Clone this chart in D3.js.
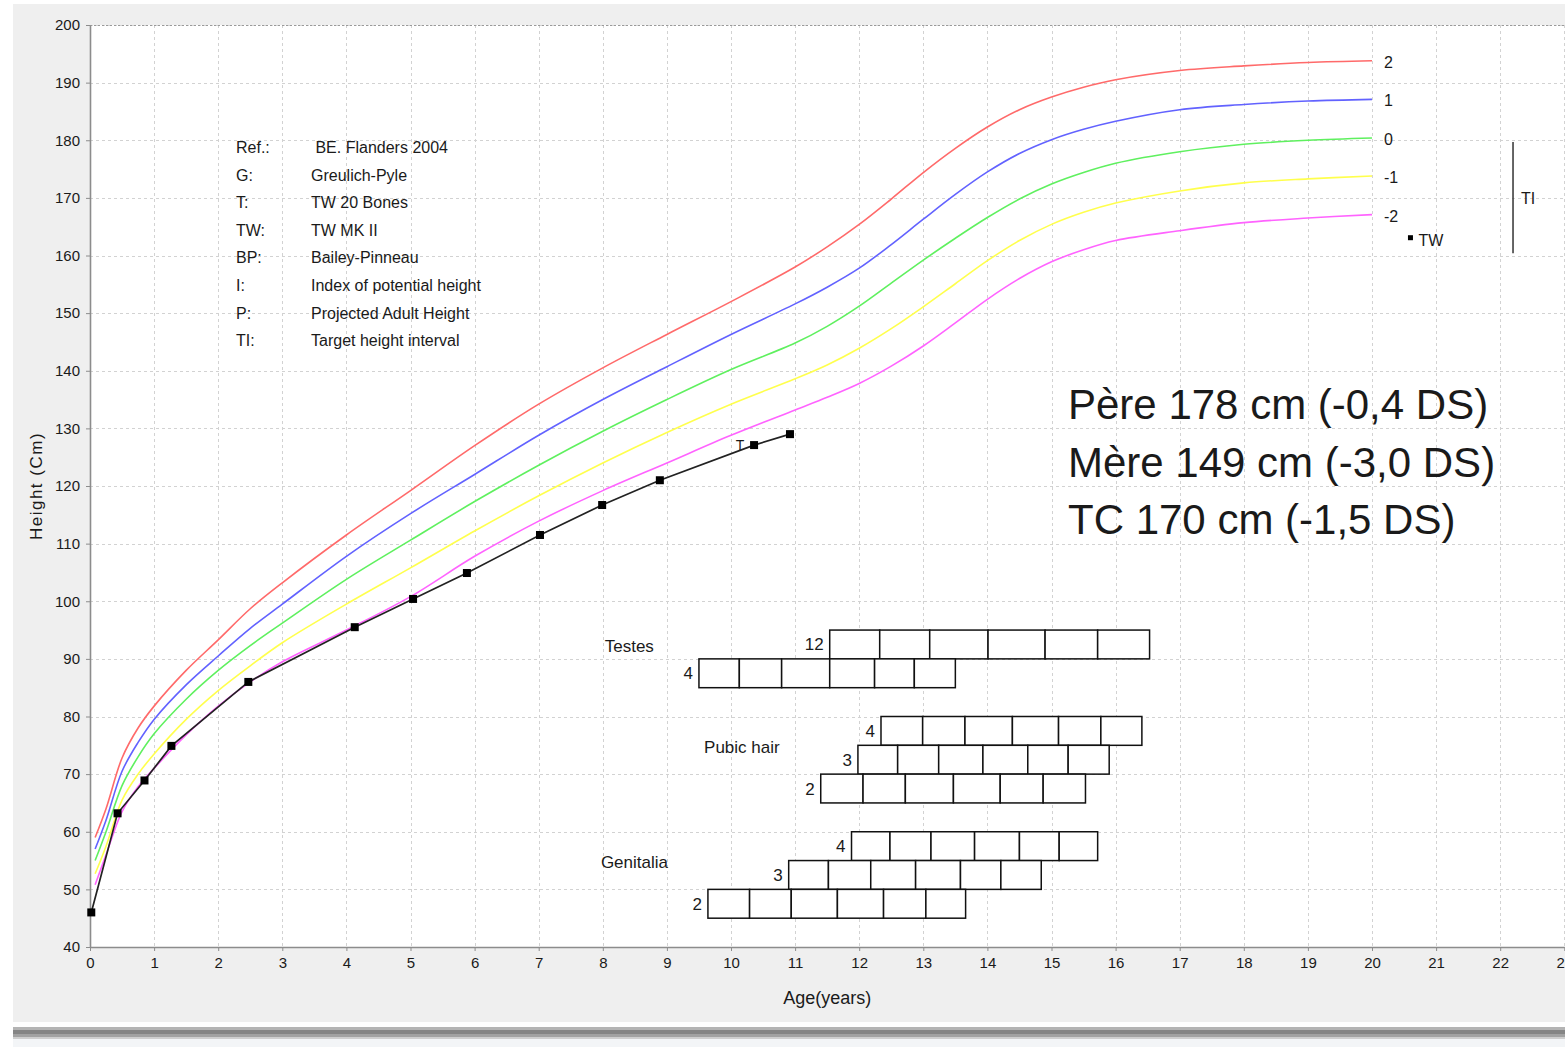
<!DOCTYPE html>
<html>
<head>
<meta charset="utf-8">
<script src="https://cdn.jsdelivr.net/npm/d3@7"></script>
<style>
  html, body { margin: 0; padding: 0; background: #ffffff; }
  svg { display: block; }
  text { font-family: "Liberation Sans", Arial, Helvetica, sans-serif; fill: #1a1a1a; }
</style>
</head>
<body>
<svg id="chart" width="1565" height="1047"></svg>
<script>
// ---- Reference growth curves (boys, Flanders 2004), height in cm by age in years ----
const ages = [0.08, 0.25, 0.5, 0.75, 1, 1.5, 2, 2.5, 3, 4, 5, 6, 7, 8, 9, 10, 11,
              11.5, 12, 12.5, 13, 13.5, 14, 14.5, 15, 15.5, 16, 17, 18, 19, 20];
const sdPlus2  = [59, 64, 72.8, 78, 81.8, 88, 93.3, 98.7, 103.2, 111.5, 119.2, 127, 134.2, 140.5, 146.3, 152, 158,
                  161.5, 165.4, 169.8, 174.4, 178.6, 182.3, 185.3, 187.5, 189.2, 190.5, 192.1, 192.9, 193.5, 193.8];
const sdPlus1  = [57, 62, 70.5, 75.5, 79.5, 85.5, 90.5, 95.3, 99.5, 107.8, 115.2, 122.0, 128.8, 135.0, 140.7, 146.3, 151.6,
                  154.5, 157.8, 161.9, 166.3, 170.6, 174.5, 177.7, 180.1, 181.9, 183.3, 185.3, 186.2, 186.8, 187.1];
const sdZero   = [55, 60, 68, 73, 77, 83, 88, 92.3, 96.2, 103.8, 110.6, 117.3, 123.6, 129.5, 135, 140.2, 144.8,
                  147.7, 151.2, 155.2, 159.2, 163, 166.6, 169.8, 172.4, 174.4, 176, 178, 179.3, 180, 180.4];
const sdMinus1 = [52.7, 57.5, 65.5, 70, 73.5, 79.5, 84.5, 88.8, 92.8, 99.5, 105.8, 112.2, 118.3, 124, 129.3, 134.2, 138.6,
                  141.0, 143.9, 147.3, 151.1, 155.1, 159.1, 162.6, 165.4, 167.5, 169.1, 171.2, 172.6, 173.3, 173.8];
const sdMinus2 = [50.8, 56, 63.5, 67.8, 71, 76.8, 81.8, 86, 89.5, 95, 100.8, 107.8, 113.9, 119.2, 124, 128.8, 133.2,
                  135.4, 137.8, 140.8, 144.3, 148.3, 152.4, 156.0, 158.9, 161.0, 162.6, 164.3, 165.7, 166.5, 167.1];
const sdLabels = ["2", "1", "0", "-1", "-2"];

// ---- Patient measurements ----
const patientAges    = [0.02, 0.43, 0.85, 1.27, 2.47, 4.13, 5.04, 5.88, 7.02, 7.99, 8.89, 10.36, 10.92];
const patientHeights = [46, 63.2, 68.9, 74.9, 86.0, 95.5, 100.4, 104.9, 111.5, 116.7, 121.0, 127.1, 129.0];
const boneAgeTW20 = 10.14;          // "T" marker, plotted at the height of the 10.36 y visit
const boneAgeHeight = 127.1;
const twAdultHeight = 163.0;        // TW prediction
const targetInterval = [160.4, 179.7];

// ---- Axis ticks ----
const xTicks = d3.range(0, 24);
const yTicks = d3.range(40, 201, 10);

// ---- Legend block ----
const legendKeys   = ["Ref.:", "G:", "T:", "TW:", "BP:", "I:", "P:", "TI:"];
const legendValues = [" BE. Flanders 2004", "Greulich-Pyle", "TW 20 Bones", "TW MK II", "Bailey-Pinneau",
                      "Index of potential height", "Projected Adult Height", "Target height interval"];

// ---- Parental heights note ----
const noteLines = ["Père 178 cm (-0,4 DS)", "Mère 149 cm (-3,0 DS)", "TC 170 cm (-1,5 DS)"];

// ---- Pubertal stage onset bands (P3..P97 ages), each row spans 5 cm ----
const testes4   = [9.5, 10.13, 10.79, 11.54, 12.24, 12.86, 13.5];
const testes12  = [11.54, 12.32, 13.1, 14.01, 14.9, 15.72, 16.53];
const pubic2    = [11.4, 12.06, 12.72, 13.47, 14.2, 14.87, 15.53];
const pubic3    = [11.98, 12.6, 13.24, 13.93, 14.63, 15.26, 15.9];
const pubic4    = [12.34, 12.99, 13.65, 14.39, 15.11, 15.77, 16.41];
const genital2  = [9.64, 10.29, 10.94, 11.66, 12.38, 13.04, 13.66];
const genital3  = [10.9, 11.52, 12.18, 12.88, 13.58, 14.21, 14.84];
const genital4  = [11.88, 12.48, 13.12, 13.8, 14.5, 15.12, 15.72];
const stageGroups = ["Testes", "Pubic hair", "Genitalia"];

// ------------------------------------------------------------------
const W = 1565, H = 1047;
const svg = d3.select("#chart");

const x = d3.scaleLinear().domain([0, 23]).range([90, 1564.3]);
const y = d3.scaleLinear().domain([40, 200]).range([947, 25]);

// window background
svg.append("rect").attr("x", 0).attr("y", 0).attr("width", W).attr("height", H).attr("fill", "#ffffff");
svg.append("rect").attr("x", 13).attr("y", 4).attr("width", W - 13).attr("height", 1018).attr("fill", "#efefef");
// bottom splitter
const strip = [[1022, 5, "#ffffff"], [1027, 3, "#b4b4b4"], [1030, 4, "#858585"], [1034, 3, "#a2a2a2"],
               [1037, 2, "#cfcfcf"], [1039, 8, "#f3f5f7"]];
strip.forEach(s => svg.append("rect").attr("x", 13).attr("y", s[0]).attr("width", W - 13)
  .attr("height", s[1]).attr("fill", s[2]));

// plot area
svg.append("rect").attr("x", x(0)).attr("y", y(200)).attr("width", W - x(0)).attr("height", y(40) - y(200))
  .attr("fill", "#ffffff");

// grid
const grid = svg.append("g").attr("stroke", "#d2d2d2").attr("stroke-width", 1).attr("stroke-dasharray", "3,3");
xTicks.filter(t => t > 0).forEach(t => grid.append("line")
  .attr("x1", Math.round(x(t)) + 0.5).attr("x2", Math.round(x(t)) + 0.5).attr("y1", y(200)).attr("y2", y(40)));
yTicks.filter(t => t > 40).forEach(t => grid.append("line")
  .attr("x1", x(0)).attr("x2", W).attr("y1", Math.round(y(t)) + 0.5).attr("y2", Math.round(y(t)) + 0.5));
svg.append("line").attr("x1", x(0)).attr("x2", W).attr("y1", y(200) + 0.5).attr("y2", y(200) + 0.5)
  .attr("stroke", "#9a9a9a").attr("stroke-width", 1).attr("stroke-dasharray", "2,2");

// axes
const yAxis = svg.append("g").attr("transform", `translate(${x(0)},0)`)
  .call(d3.axisLeft(y).tickValues(yTicks).tickSize(4).tickSizeOuter(0).tickPadding(6));
const xAxis = svg.append("g").attr("transform", `translate(0,${y(40)})`)
  .call(d3.axisBottom(x).tickValues(xTicks).tickSize(4).tickSizeOuter(0).tickPadding(6));
[yAxis, xAxis].forEach(a => {
  a.select(".domain").attr("stroke", "#8c8c8c").attr("stroke-width", 1.6);
  a.selectAll(".tick line").attr("stroke", "#8c8c8c");
  a.selectAll(".tick text").attr("font-size", 15).attr("fill", "#222")
    .attr("font-family", '"Liberation Sans", Arial, sans-serif');
});

svg.append("text").attr("transform", `translate(42,${y(120)}) rotate(-90)`)
  .attr("text-anchor", "middle").attr("font-size", 17).attr("letter-spacing", 1.5).text("Height (Cm)");
svg.append("text").attr("x", x(11.5)).attr("y", 1004).attr("text-anchor", "middle")
  .attr("font-size", 18).text("Age(years)");

// legend text
const leg = svg.append("g").attr("font-size", 16);
legendKeys.forEach((k, i) => {
  const by = 153 + i * 27.6;
  leg.append("text").attr("x", 236).attr("y", by).text(k);
  leg.append("text").attr("x", 311).attr("y", by).attr("xml:space", "preserve")
    .style("white-space", "pre").text(legendValues[i]);
});

// reference curves
const series = [
  { values: sdPlus2,  color: "#ff6a6a" },
  { values: sdPlus1,  color: "#6262ff" },
  { values: sdZero,   color: "#5ff05f" },
  { values: sdMinus1, color: "#ffff4d" },
  { values: sdMinus2, color: "#ff63ff" }
];
const line = d3.line().x(d => x(d[0])).y(d => y(d[1])).curve(d3.curveCatmullRom.alpha(0.5));
series.forEach((s, i) => {
  const pts = ages.map((a, j) => [a, s.values[j]]);
  svg.append("path").attr("d", line(pts)).attr("fill", "none")
    .attr("stroke", s.color).attr("stroke-width", 1.6);
  svg.append("text").attr("x", x(20) + 12).attr("y", y(s.values[s.values.length - 1]) + 7)
    .attr("font-size", 16).text(sdLabels[i]);
});

// patient growth line and points
const patient = patientAges.map((a, i) => [a, patientHeights[i]]);
svg.append("path").attr("d", d3.line().x(d => x(d[0])).y(d => y(d[1]))(patient))
  .attr("fill", "none").attr("stroke", "#222").attr("stroke-width", 1.7);
svg.selectAll("rect.pt").data(patient).enter().append("rect").attr("class", "pt")
  .attr("x", d => x(d[0]) - 4).attr("y", d => y(d[1]) - 4).attr("width", 8).attr("height", 8)
  .attr("fill", "#000");

// bone age marker
svg.append("text").attr("x", x(boneAgeTW20)).attr("y", y(boneAgeHeight) + 5)
  .attr("text-anchor", "middle").attr("font-size", 14).text("T");

// TW prediction marker
svg.append("rect").attr("x", x(20.6) - 2.5).attr("y", y(twAdultHeight) - 3).attr("width", 5).attr("height", 5)
  .attr("fill", "#000");
svg.append("text").attr("x", x(20.6) + 8).attr("y", y(twAdultHeight) + 8).attr("font-size", 16).text("TW");

// target height interval
svg.append("line").attr("x1", x(22.2)).attr("x2", x(22.2))
  .attr("y1", y(targetInterval[1])).attr("y2", y(targetInterval[0]))
  .attr("stroke", "#333").attr("stroke-width", 1.5);
svg.append("text").attr("x", x(22.2) + 8).attr("y", y(d3.mean(targetInterval)) + 6)
  .attr("font-size", 16).text("TI");

// pubertal stage bands
const rows = [
  { stage: "12", top: 95, ages: testes12 },
  { stage: "4",  top: 90, ages: testes4 },
  { stage: "4",  top: 80, ages: pubic4 },
  { stage: "3",  top: 75, ages: pubic3 },
  { stage: "2",  top: 70, ages: pubic2 },
  { stage: "4",  top: 60, ages: genital4 },
  { stage: "3",  top: 55, ages: genital3 },
  { stage: "2",  top: 50, ages: genital2 }
];
const bands = svg.append("g");
rows.forEach(r => {
  const y0 = y(r.top), y1 = y(r.top - 5);
  for (let k = 0; k < r.ages.length - 1; k++) {
    bands.append("rect").attr("x", x(r.ages[k])).attr("y", y0)
      .attr("width", x(r.ages[k + 1]) - x(r.ages[k])).attr("height", y1 - y0)
      .attr("fill", "#ffffff").attr("stroke", "#111").attr("stroke-width", 1.5);
  }
  bands.append("text").attr("x", x(r.ages[0]) - 6).attr("y", (y0 + y1) / 2 + 6)
    .attr("text-anchor", "end").attr("font-size", 17).text(r.stage);
});
const groupPos = [[8.03, 92.2], [9.58, 74.7], [7.97, 54.75]];
stageGroups.forEach((g, i) => {
  svg.append("text").attr("x", x(groupPos[i][0])).attr("y", y(groupPos[i][1]) + 6)
    .attr("font-size", 17).text(g);
});

// parental heights note
noteLines.forEach((t, i) => {
  svg.append("text").attr("x", 1068).attr("y", 419 + i * 57.5)
    .attr("font-family", '"Open Sans", "Noto Sans", sans-serif').attr("font-size", 42)
    .attr("fill", "#000").text(t);
});
</script>
</body>
</html>
